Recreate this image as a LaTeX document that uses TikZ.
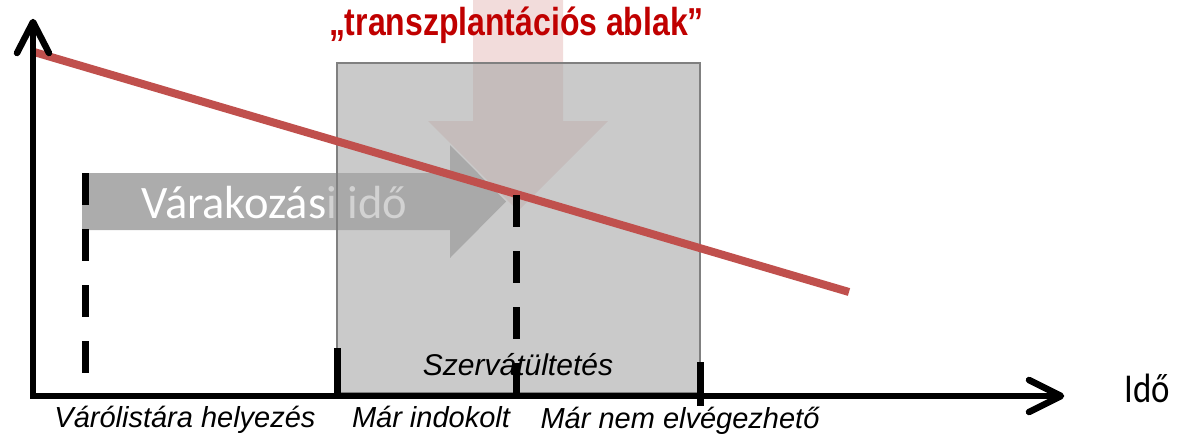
\documentclass[tikz,border=0pt]{standalone}
\usepackage{fontspec}
\usepackage{graphicx}
\setmainfont{Liberation Sans}
\newfontfamily\carlito{Carlito}
\definecolor{redline}{HTML}{C0504D}
\definecolor{titlered}{HTML}{C00000}
\definecolor{pinkarrow}{HTML}{F2DCDB}
\definecolor{grayarrow}{HTML}{ACACAC}
\definecolor{boxfill}{HTML}{A7A7A7}
\definecolor{boxline}{HTML}{808080}
\definecolor{fadedtext}{HTML}{D2D2D2}
\tikzset{
  axisline/.style={line width=6.5pt, black, line cap=round, line join=round},
  marker/.style={line width=7pt, black},
  dashmarker/.style={line width=7pt, black, dash pattern=on 32pt off 24pt},
  windowbox/.style={fill=boxfill, fill opacity=0.6, draw=boxline, line width=2pt},
  lbl/.style={inner sep=0pt, anchor=base, font=\itshape\fontsize{29}{29}\selectfont},
  bigtext/.style={inner sep=0pt, anchor=base west, font=\carlito\fontsize{46.5}{46.5}\selectfont},
}
\begin{document}
\begin{tikzpicture}[x=1pt,y=-1pt]
\useasboundingbox (0,0) rectangle (1184,437);
% pink "window" arrow
\fill[pinkarrow] (473,0) -- (563,0) -- (563,121) -- (608,121) -- (518,211) -- (428,121) -- (473,121) -- cycle;
% gray waiting-time arrow
\fill[grayarrow] (82,173) -- (450,173) -- (450,145) -- (506,201.5) -- (450,258) -- (450,230) -- (82,230) -- cycle;
\node[bigtext, text=white] (vt1) at (141,218) {Várakozás};
% transplantation window box
\draw[windowbox] (337,63) rectangle (700,393);
\node[bigtext, text=fadedtext] (vt2) at (vt1.base east) {i idő};
\node[lbl, font=\itshape\fontsize{30}{30}\selectfont] (szerv) at (518,375) {Szervátültetés};
% red curve
\coordinate (r0) at (34,52);
\coordinate (r1) at (849,292);
\draw[redline, line width=8pt] (r0) -- (r1);
% markers
\coordinate (d1top) at (85,173);
\coordinate (d1bot) at (85,396);
\coordinate (d2top) at (516,195);
\coordinate (d2bot) at (516,396);
\coordinate (t1top) at (337,348);
\coordinate (t1bot) at (337,396);
\coordinate (t2top) at (700,362);
\coordinate (t2bot) at (700,406);
\draw[dashmarker] (d1top) -- (d1bot);
\draw[dashmarker] (d2top) -- (d2bot);
\draw[marker] (t1top) -- (t1bot);
\draw[marker] (t2top) -- (t2bot);
% axes
\coordinate (ytip) at (33,22);
\coordinate (origin) at (33,396);
\coordinate (xtip) at (1061,396);
\draw[axisline, line cap=butt, line join=miter] (ytip) -- (origin) -- (xtip);
\draw[axisline] (17,53) -- (ytip) -- (49,53);
\draw[axisline] (1029,380) -- (xtip) -- (1029,412);
\node[inner sep=0pt, anchor=base] (ido) at (1147.5,402) {\scalebox{0.85}[1]{\carlito\fontsize{41}{41}\selectfont Idő}};
% labels
\node[lbl] (l1) at (185,427) {Várólistára helyezés};
\node[lbl] (l2) at (431,427) {Már indokolt};
\node[lbl] (l3) at (680,428) {Már nem elvégezhető};
\node[inner sep=0pt, anchor=base, text=titlered] (title) at (516.5,35) {\scalebox{0.82}[1]{\bfseries\fontsize{39}{39}\selectfont „transzplantációs ablak”}};
\end{tikzpicture}
\end{document}
